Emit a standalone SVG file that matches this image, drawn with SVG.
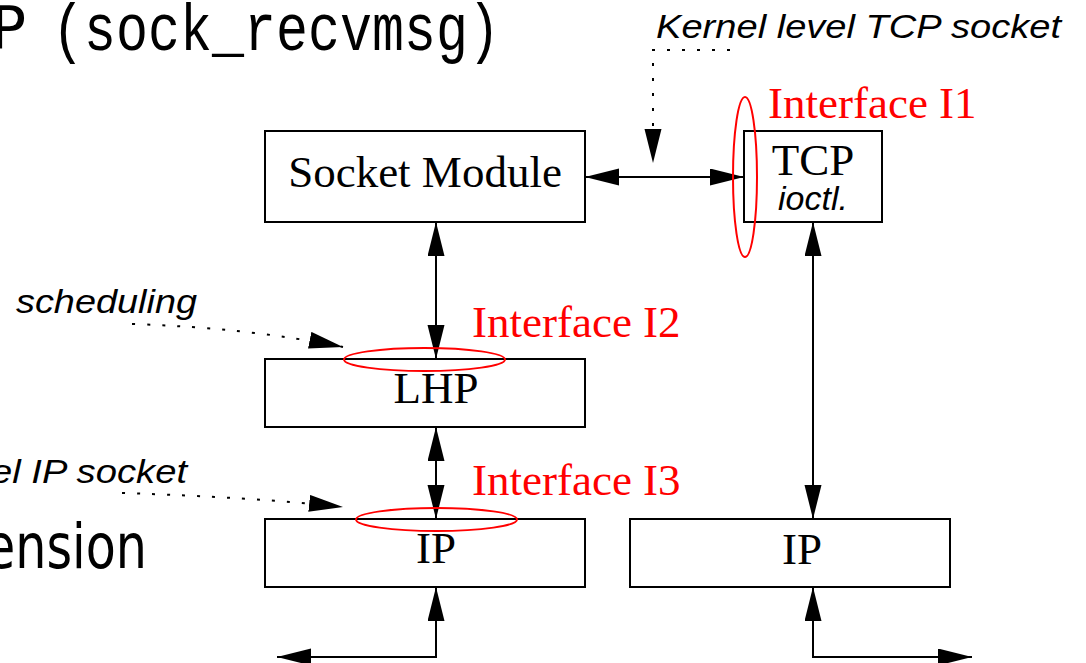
<svg xmlns="http://www.w3.org/2000/svg" width="1086" height="663" viewBox="0 0 1086 663">
<style>
.box{fill:#fff;stroke:#000;stroke-width:2}
.lbl{font-family:"Liberation Serif","Times New Roman",serif;font-size:45px;fill:#000;text-anchor:middle}
.it{font-family:"Liberation Sans",Arial,sans-serif;font-style:italic;font-size:34px;fill:#000}
.red{font-family:"Liberation Serif","Times New Roman",serif;font-size:45px;fill:#f00}
.conn{fill:none;stroke:#000;stroke-width:2}
.dot{fill:none;stroke:#000;stroke-width:2;stroke-dasharray:3 12}
.ring{fill:none;stroke:#f00;stroke-width:2}
</style>
<defs>
<marker id="ah" markerUnits="userSpaceOnUse" markerWidth="36" markerHeight="18" refX="34" refY="8.5" orient="auto-start-reverse" viewBox="0 0 36 18">
<path d="M0,0 L34,8.5 L0,17 z" fill="#000"/>
</marker>
</defs>
<rect width="1086" height="663" fill="#fff"/>
<g id="background-text">
<text x="26" y="48" text-anchor="end" font-family="DejaVu Sans, sans-serif" font-size="59">P</text>
<text x="52" y="50" font-family="Liberation Mono, Courier New, monospace" font-size="66" textLength="448" lengthAdjust="spacingAndGlyphs">(sock_recvmsg)</text>
<text x="-15" y="568" font-family="DejaVu Sans, sans-serif" font-size="62" textLength="162" lengthAdjust="spacingAndGlyphs">ension</text>
</g>
<g id="connectors">
<path class="conn" d="M585,177 H744" marker-start="url(#ah)" marker-end="url(#ah)"/>
<path class="conn" d="M436,222 V359" marker-start="url(#ah)" marker-end="url(#ah)"/>
<path class="conn" d="M436,427 V519" marker-start="url(#ah)" marker-end="url(#ah)"/>
<path class="conn" d="M813,222 V519" marker-start="url(#ah)" marker-end="url(#ah)"/>
<path class="conn" d="M277,657 H436 V587" marker-start="url(#ah)" marker-end="url(#ah)"/>
<path class="conn" d="M972,657 H813 V587" marker-start="url(#ah)" marker-end="url(#ah)"/>
<path class="dot" d="M730,50 H653 V163" marker-end="url(#ah)"/>
<path class="dot" d="M132,324 Q250,328 343,347" marker-end="url(#ah)"/>
<path class="dot" d="M122,493 Q250,497 343,507" marker-end="url(#ah)"/>
</g>
<g id="socket-module">
<rect class="box" x="265" y="131" width="320" height="91"/>
<text class="lbl" x="425" y="187">Socket Module</text>
</g>
<g id="tcp">
<rect class="box" x="744" y="131" width="138" height="91"/>
<text class="lbl" x="813" y="175" font-size="44">TCP</text>
<text class="it" x="813" y="210" text-anchor="middle" font-size="33">ioctl.</text>
</g>
<g id="lhp">
<rect class="box" x="265" y="359" width="320" height="68"/>
<text class="lbl" x="436" y="403">LHP</text>
</g>
<g id="ip-left">
<rect class="box" x="265" y="519" width="320" height="68"/>
<text class="lbl" x="436" y="563">IP</text>
</g>
<g id="ip-right">
<rect class="box" x="630" y="519" width="320" height="68"/>
<text class="lbl" x="802" y="564">IP</text>
</g>
<g id="annotations">
<text class="it" x="656" y="38" textLength="405" lengthAdjust="spacingAndGlyphs">Kernel level TCP socket</text>
<text class="it" x="16" y="313" textLength="181" lengthAdjust="spacingAndGlyphs">scheduling</text>
<text class="it" x="-9" y="483" textLength="196" lengthAdjust="spacingAndGlyphs">el IP socket</text>
</g>
<g id="interfaces">
<ellipse class="ring" cx="745" cy="177" rx="12" ry="80"/>
<ellipse class="ring" cx="424.5" cy="359.5" rx="80.5" ry="11.5"/>
<ellipse class="ring" cx="436.5" cy="519.5" rx="80.5" ry="11.5"/>
<text class="red" x="768" y="118">Interface I1</text>
<text class="red" x="472" y="337">Interface I2</text>
<text class="red" x="472" y="495">Interface I3</text>
</g>
</svg>
